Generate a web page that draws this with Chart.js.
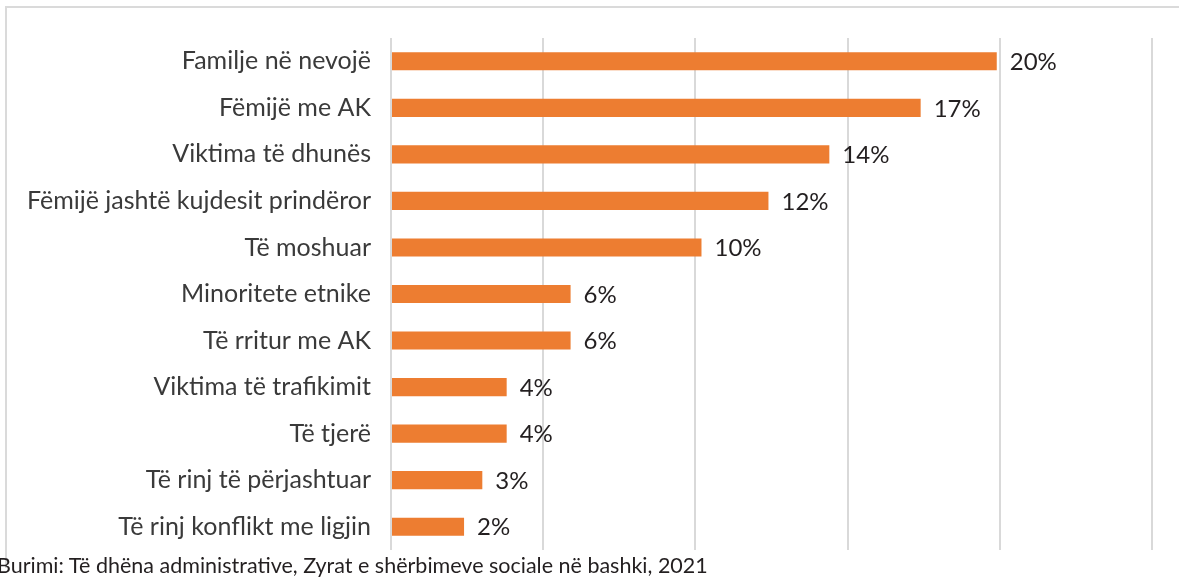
<!DOCTYPE html>
<html>
<head>
<meta charset="utf-8">
<script src="https://cdn.jsdelivr.net/npm/chart.js@4/dist/chart.umd.min.js"></script>
<style>
  body { margin: 0; background: #fff; overflow: hidden; }
  #wrap { position: relative; width: 1179px; height: 579px; }
  #frame { position: absolute; left: 5px; top: 6px; width: 1200px; height: 560px;
           border-left: 2px solid #dadada; border-top: 2px solid #dadada; }
  #chart { position: absolute; left: 0; top: 0; }
  #source { position: absolute; left: -3px; top: 552px; font-family: Lato, sans-serif;
            font-size: 21.5px; color: #231f20; white-space: nowrap; }
</style>
</head>
<body>
<div id="wrap">
  <div id="frame"></div>
  <canvas id="chart" width="1179" height="579"></canvas>
  <div id="source">Burimi: Të dhëna administrative, Zyrat e shërbimeve sociale në bashki, 2021</div>
</div>
<script>
const categories = [
  'Familje në nevojë',
  'Fëmijë me AK',
  'Viktima të dhunës',
  'Fëmijë jashtë kujdesit prindëror',
  'Të moshuar',
  'Minoritete etnike',
  'Të rritur me AK',
  'Viktima të trafikimit',
  'Të tjerë',
  'Të rinj të përjashtuar',
  'Të rinj konflikt me ligjin'
];
const shares = [19.9, 17.4, 14.4, 12.4, 10.2, 5.9, 5.9, 3.8, 3.8, 3.0, 2.4];

// etiketat e vlerave ne fund te shiritave
const valueLabels = {
  id: 'valueLabels',
  afterDatasetsDraw(chart) {
    const ctx = chart.ctx;
    const meta = chart.getDatasetMeta(0);
    ctx.save();
    ctx.font = '24px Lato, sans-serif';
    ctx.fillStyle = '#231f20';
    ctx.textAlign = 'left';
    ctx.textBaseline = 'middle';
    meta.data.forEach((bar, i) => {
      ctx.fillText(Math.round(shares[i]) + '%', bar.x + 13, bar.y + 1);
    });
    ctx.restore();
  }
};

new Chart(document.getElementById('chart'), {
  type: 'bar',
  data: {
    labels: categories,
    datasets: [{
      data: shares,
      backgroundColor: '#ed7d31',
      categoryPercentage: 0.39,
      barPercentage: 1
    }]
  },
  options: {
    indexAxis: 'y',
    responsive: false,
    animation: false,
    layout: { padding: { top: 38, bottom: 29, right: 27, left: 0 } },
    plugins: {
      legend: { display: false },
      tooltip: { enabled: false }
    },
    scales: {
      x: {
        min: 0,
        max: 25,
        ticks: { display: false, stepSize: 5 },
        grid: { color: '#d9d9d9', lineWidth: 2, drawTicks: false },
        border: { display: false }
      },
      y: {
        grid: { display: false, drawTicks: false },
        border: { display: false },
        afterFit(scale) {
          scale.width = 391;
          scale.paddingTop = 0;
          scale.paddingBottom = 0;
        },
        ticks: {
          padding: 20,
          color: '#3a3a3a',
          font: { family: 'Lato, sans-serif', size: 25 }
        }
      }
    }
  },
  plugins: [valueLabels]
});
</script>
</body>
</html>
